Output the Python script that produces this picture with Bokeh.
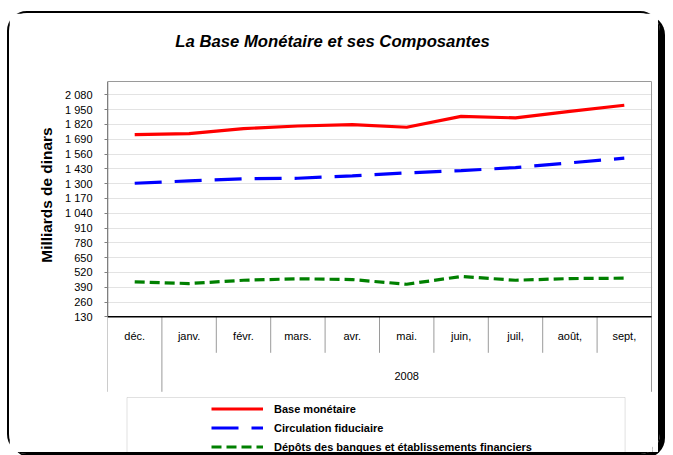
from bokeh.plotting import figure
from bokeh.models import Range1d, FixedTicker, Legend, LegendItem, BoxAnnotation, Title
from bokeh.core.properties import value
from bokeh.embed import file_html
from bokeh.resources import INLINE

# ---------------- data ----------------
months = ["déc.", "janv.", "févr.", "mars.", "avr.", "mai.", "juin,", "juil,", "août,", "sept,"]
year_label = "2008"
base_monetaire = [1731, 1739, 1783, 1806, 1818, 1795, 1891, 1877, 1935, 1988]
circulation_fiduciaire = [1303, 1324, 1342, 1347, 1368, 1394, 1414, 1441, 1482, 1523]
depots_banques = [437, 422, 451, 464, 457, 416, 484, 451, 466, 469]
y_ticks = [130, 260, 390, 520, 650, 780, 910, 1040, 1170, 1300, 1430, 1560, 1690, 1820, 1950, 2080]
y_tick_labels = ["130", "260", "390", "520", "650", "780", "910", "1 040", "1 170",
                 "1 300", "1 430", "1 560", "1 690", "1 820", "1 950", "2 080"]
series_names = ["Base monétaire", "Circulation fiduciaire",
                "Dépôts des banques et établissements financiers"]
title_text = "La Base Monétaire et ses Composantes"
y_title = "Milliards de dinars"

# ---------------- layout constants ----------------
FONT = "Liberation Sans"
CANVAS_W, CANVAS_H = 653, 443
ORIGIN_X, ORIGIN_Y = 10, 14          # page position of the canvas
FRAME_LEFT, FRAME_TOP = 108, 25      # page position of the frame (title area included)
FRAME_W = 545
AXIS_Y_PAGE = 317.3                  # page y of value y_ticks[0]
PLOT_TOP_PAGE = 82                   # page y of the plot-area top border
TICK_PX = 14.8                       # pixels per tick step
CAT_W = 54.4                         # pixels per category

n = len(months)
xs = list(range(n))
step = y_ticks[1] - y_ticks[0]
ppu = TICK_PX / step
frame_h = CANVAS_H - (FRAME_TOP - ORIGIN_Y)
y_base = y_ticks[0]
Y_MAX = y_base + (AXIS_Y_PAGE - FRAME_TOP) / ppu
Y_MIN = Y_MAX - frame_h / ppu
X_MIN = -0.5
X_MAX = X_MIN + FRAME_W / CAT_W


def y_below(px):
    return y_base - px / ppu


def y_page(py):
    return y_base + (AXIS_Y_PAGE - py) / ppu


def x_page(px):
    return X_MIN + (px - FRAME_LEFT) / CAT_W


p = figure(width=CANVAS_W, height=CANVAS_H, output_backend="svg", toolbar_location=None,
           x_range=Range1d(X_MIN, X_MAX), y_range=Range1d(Y_MIN, Y_MAX),
           min_border_left=FRAME_LEFT - ORIGIN_X, min_border_top=FRAME_TOP - ORIGIN_Y,
           min_border_right=CANVAS_W - (FRAME_LEFT - ORIGIN_X) - FRAME_W, min_border_bottom=0)
p.styles = {"margin-top": "11px", "margin-left": "7px", "border": "2px solid black",
            "border-radius": "20px", "box-shadow": "5px 4px 0 black"}
p.outline_line_color = None
p.background_fill_color = "white"
p.border_fill_color = "white"
p.title.text = ""

# chart title
p.text(x=[x_page(333)], y=[y_page(42)], text=[title_text], text_align="center",
       text_baseline="middle", text_font=value(FONT), text_font_size="16.7px",
       text_font_style="bold italic", text_color="black")

# axes
p.xaxis.visible = False
p.xgrid.visible = False
yax = p.yaxis[0]
yax.ticker = FixedTicker(ticks=y_ticks)
yax.major_label_overrides = {t: l for t, l in zip(y_ticks, y_tick_labels)}
yax.axis_line_color = None
yax.major_tick_in = 0
yax.major_tick_out = 3
yax.major_tick_line_color = "#808080"
yax.minor_tick_line_color = None
yax.major_label_text_font = FONT
yax.major_label_text_font_size = "11px"
yax.major_label_text_color = "black"
yax.major_label_standoff = 12
p.ygrid.ticker = FixedTicker(ticks=y_ticks[1:])
p.ygrid.grid_line_color = "#E3E3E3"

# y-axis title as a side title placed next to the value part of the axis
p.add_layout(Title(text=y_title, align="right", offset=128 - FRAME_TOP, standoff=14,
                   text_font=FONT, text_font_size="15.4px", text_font_style="bold",
                   text_color="black"), "left")

# plot-area borders and category separators
y_top_border = y_page(PLOT_TOP_PAGE)
y_short = y_below(36)
y_long = y_below(75)
x_left, x_right = X_MIN, X_MIN + n
p.segment(x0=[x_left], y0=[y_base], x1=[x_left], y1=[y_top_border], line_color="black", line_width=1.3)
p.segment(x0=[x_left, x_right], y0=[y_base, y_top_border], x1=[x_left, x_right], y1=[y_long, y_long],
          line_color="#9A9A9A", line_width=1)
p.segment(x0=[x_left], y0=[y_top_border], x1=[x_right], y1=[y_top_border], line_color="#9A9A9A", line_width=1)
sep_x = [i + 0.5 for i in range(n - 1)]
sep_end = [y_long] + [y_short] * (n - 2)
p.segment(x0=sep_x, y0=[y_base] * len(sep_x), x1=sep_x, y1=sep_end, line_color="#9A9A9A", line_width=1)
p.segment(x0=[x_left], y0=[y_base], x1=[x_right], y1=[y_base], line_color="black", line_width=1.5)

# category labels
p.text(x=xs, y=[y_below(19)] * n, text=months, text_align="center", text_baseline="middle",
       text_font=value(FONT), text_font_size="11px", text_color="black")
p.text(x=[sum(xs[1:]) / len(xs[1:])], y=[y_below(59)], text=[year_label], text_align="center",
       text_baseline="middle", text_font=value(FONT), text_font_size="11px", text_color="black")

# series
r1 = p.line(xs, base_monetaire, line_color="#FF0000", line_width=3.2)
r2 = p.line(xs, circulation_fiduciaire, line_color="#0000FF", line_width=3.2, line_dash="27 13")
r3 = p.line(xs, depots_banques, line_color="#008000", line_width=3.2, line_dash="10 5")

# legend box + legend
box = BoxAnnotation(left=x_page(127.5), right=x_page(625.6), top=y_page(398), bottom=Y_MIN - 100,
                    fill_alpha=0, line_color="#9A9A9A", line_width=1)
p.add_layout(box)
legend = Legend(items=[LegendItem(label=series_names[0], renderers=[r1]),
                       LegendItem(label=series_names[1], renderers=[r2]),
                       LegendItem(label=series_names[2], renderers=[r3])],
                location=(104, 0), padding=0, margin=0, spacing=0,
                border_line_color=None, background_fill_alpha=0,
                glyph_width=52, glyph_height=19, label_height=19, label_standoff=11,
                label_text_font=FONT, label_text_font_size="11px", label_text_font_style="bold",
                label_text_color="black")
p.add_layout(legend)

open("out.html", "w").write(file_html(p, INLINE))
